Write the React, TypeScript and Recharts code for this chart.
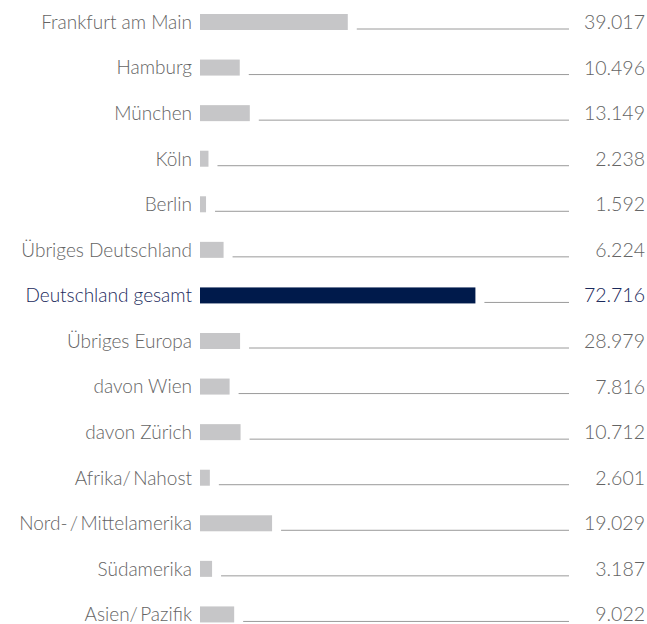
import React from "react";
import { BarChart, Bar, XAxis, YAxis, Cell } from "recharts";

const categories = [
  "Frankfurt am Main",
  "Hamburg",
  "München",
  "Köln",
  "Berlin",
  "Übriges Deutschland",
  "Deutschland gesamt",
  "Übriges Europa",
  "davon Wien",
  "davon Zürich",
  "Afrika/\u2009Nahost",
  "Nord-\u2009/\u2009Mittelamerika",
  "Südamerika",
  "Asien/\u2009Pazifik",
];
// bar lengths as drawn in the reference
const barValues = [39017, 10496, 13149, 2238, 1592, 6224, 72716, 10580, 7816, 10712, 2601, 19029, 3187, 9022];
// printed values
const valueLabels = ["39.017", "10.496", "13.149", "2.238", "1.592", "6.224", "72.716", "28.979", "7.816", "10.712", "2.601", "19.029", "3.187", "9.022"];
const highlight = "Deutschland gesamt";

const data = categories.map((name, i) => ({ name, value: barValues[i], label: valueLabels[i] }));

const GRAY = "#c6c6c8";
const NAVY = "#001a4b";
const TEXT = "#646464";
const HL_TEXT = "#1b2a5c";
const FONT = "Lato, sans-serif";

const BarShape = (props: any) => {
  const { x, y, width, height, payload } = props;
  const hl = payload.name === highlight;
  const lineY = y + height - 1;
  return (
    <g>
      <rect x={x} y={y} width={width} height={height} fill={hl ? NAVY : GRAY} />
      <line x1={x + width + 9} x2={569} y1={lineY} y2={lineY} stroke="#9a9a9a" strokeWidth={1} />
      <text
        x={645}
        y={y + height / 2 - 0.5}
        textAnchor="end"
        dominantBaseline="central"
        fontFamily={FONT}
        fontWeight={300}
        fontSize={19.5}
        fill={hl ? HL_TEXT : TEXT}
      >
        {payload.label}
      </text>
    </g>
  );
};

const Tick = (props: any) => {
  const { y, payload } = props;
  const hl = payload.value === highlight;
  return (
    <text
      x={192}
      y={y - 0.5}
      textAnchor="end"
      dominantBaseline="central"
      fontFamily={FONT}
      fontWeight={300}
      fontSize={19}
      fill={hl ? HL_TEXT : TEXT}
    >
      {payload.value}
    </text>
  );
};

export default function App() {
  return (
    <div style={{ position: "absolute", left: 0, top: -1, width: 647, height: 638 }}>
      <BarChart
        width={647}
        height={638}
        data={data}
        layout="vertical"
        margin={{ top: 0, right: 144, bottom: 0, left: 0 }}
        barSize={16}
      >
        <XAxis type="number" domain={[0, 80000]} hide />
        <YAxis
          type="category"
          dataKey="name"
          width={200}
          axisLine={false}
          tickLine={false}
          tick={<Tick />}
          interval={0}
        />
        <Bar dataKey="value" shape={<BarShape />} isAnimationActive={false}>
          {data.map((d) => (
            <Cell key={d.name} fill={d.name === highlight ? NAVY : GRAY} />
          ))}
        </Bar>
      </BarChart>
    </div>
  );
}
